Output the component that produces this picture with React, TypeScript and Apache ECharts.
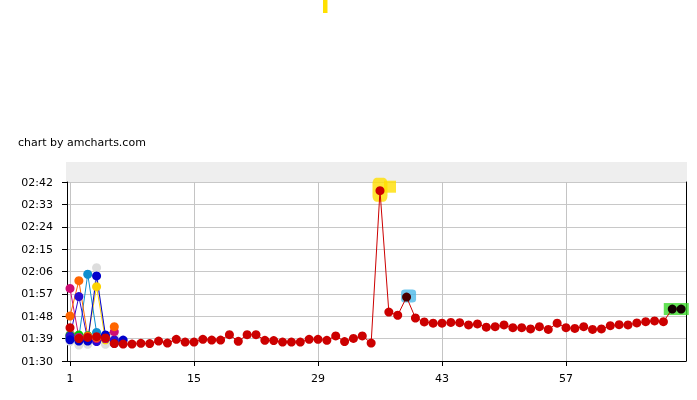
import React, { useEffect, useRef } from "react";
import * as echarts from "echarts";

// lap times in seconds
const mainRed = [
  103.4, 99.0, 99.5, 99.8, 99.3, 97.0, 96.8, 96.8, 97.1, 97.0,
  98.0, 97.2, 98.7, 97.6, 97.6, 98.7, 98.4, 98.4, 100.6, 97.9,
  100.6, 100.6, 98.3, 98.2, 97.6, 97.6, 97.6, 98.7, 98.7, 98.3,
  100.1, 97.8, 99.1, 100.1, 97.2, 158.5, 109.7, 108.4, 115.7, 107.3,
  105.7, 105.2, 105.2, 105.5, 105.4, 104.5, 104.9, 103.6, 103.8, 104.5,
  103.4, 103.4, 102.9, 103.8, 102.7, 105.2, 103.4, 103.1, 103.8, 102.7,
  102.9, 104.2, 104.6, 104.5, 105.3, 105.8, 106.1, 105.8, 110.9, 110.9,
];
const orangeLaps = [108.1, 122.3, 100.0, 99.5, 99.5, 103.8];
const yellowLaps = [99.5, 99.0, 99.0, 119.9, 98.5];
const cyanLaps = [99.0, 99.5, 124.9, 101.5, 99.0, 98.0];
const indigoLaps = [100.0, 115.9, 98.5, 97.8, 99.0, 98.5];
const pinkLaps = [119.2, 99.5, 99.0, 99.0, 99.0, 101.8];
const greenLaps = [100.3, 100.5, 100.2, 98.8, 99.0];
const blueLaps = [98.5, 98.0, 98.0, 124.2, 100.5, 97.1, 98.4];
const lightGrayLaps = [97.8, 96.4, 96.7, 127.5, 96.7, 99.8];
const grayLaps = [100.7, 100.0, 99.5, 99.3];

const xTicks = [1, 15, 29, 43, 57];
const yTicks = { min: 90, max: 162, step: 9 };

const darkLaps = [39];
const blackLaps = [69, 70];
const yellowHighlight = [36];
const cyanHighlight = [39];
const greenHighlight = [69];

const FONT = "DejaVu Sans";

function fmt(sec: number) {
  const m = Math.floor(sec / 60);
  const s = Math.round(sec - m * 60);
  return String(m).padStart(2, "0") + ":" + String(s).padStart(2, "0");
}

function pairs(vals: number[]) {
  return vals.map((v, i) => [i + 1, v]);
}

export default function App() {
  const ref = useRef<HTMLDivElement>(null);
  useEffect(() => {
    if (!ref.current) return;
    const chart = echarts.init(ref.current, undefined, { renderer: "svg" });

    const lineSeries = (name: string, color: string, vals: number[], z = 2) => ({
      name,
      type: "line",
      z,
      data: pairs(vals),
      symbol: "circle",
      symbolSize: 9,
      showSymbol: true,
      lineStyle: { color, width: 1 },
      itemStyle: { color },
      emphasis: { disabled: true },
    });

    const redData = mainRed.map((v, i) => {
      const lap = i + 1;
      if (darkLaps.includes(lap)) return { value: [lap, v], itemStyle: { color: "#4a0000" } };
      if (blackLaps.includes(lap)) return { value: [lap, v], itemStyle: { color: "#110000" } };
      return [lap, v];
    });

    const highlight = (laps: number[], color: string, symbol: string, size: number[], offset: number[]) => ({
      type: "scatter",
      z: 1,
      silent: true,
      data: laps.map((l) => [l, mainRed[l - 1]]),
      symbol,
      symbolSize: size,
      symbolOffset: offset,
      itemStyle: { color },
    });

    chart.setOption({
      animation: false,
      grid: { left: 67, right: 11, top: 182, bottom: 39 },
      xAxis: {
        type: "value",
        min: 0.66,
        max: 70.55,
        axisLine: { show: true, lineStyle: { color: "#000", width: 1 } },
        axisTick: { show: true, customValues: xTicks, length: 5, lineStyle: { color: "#000" } },
        axisLabel: { customValues: xTicks, margin: 12, color: "#000", fontFamily: FONT, fontSize: 11 },
        splitLine: { show: true, lineStyle: { color: "#c4c4c4", width: 1 } },
      },
      yAxis: [
        {
          type: "value",
          min: yTicks.min,
          max: yTicks.max,
          interval: yTicks.step,
          axisLine: { show: true, lineStyle: { color: "#000", width: 1 } },
          axisTick: { show: true, length: 5, lineStyle: { color: "#000" } },
          axisLabel: { margin: 14, color: "#000", fontFamily: FONT, fontSize: 11, formatter: (v: number) => fmt(v) },
          splitLine: { show: true, lineStyle: { color: "#c8c8c8", width: 1 } },
        },
        {
          type: "value",
          position: "right",
          min: yTicks.min,
          max: yTicks.max,
          interval: yTicks.step,
          axisLine: { show: true, lineStyle: { color: "#000", width: 1 } },
          axisTick: { show: false },
          axisLabel: { show: false },
          splitLine: { show: false },
        },
      ],
      graphic: [
        { type: "rect", shape: { x: 66, y: 162, width: 621, height: 20 }, style: { fill: "#eeeeee" }, silent: true },
        { type: "rect", shape: { x: 323, y: 0, width: 4.5, height: 13 }, style: { fill: "#ffe000" }, silent: true },
        {
          type: "text",
          x: 18,
          y: 137,
          style: { text: "chart by amcharts.com", font: `11px "${FONT}"`, fill: "#000" },
          silent: true,
        },
      ],
      series: [
        highlight(yellowHighlight, "#ffdf00", "roundRect", [15, 24], [0, -1]),
        highlight(yellowHighlight, "#ffdf00", "rect", [12, 12], [10, -4]),
        highlight(cyanHighlight, "#4cb9e9", "roundRect", [15, 13], [2, -1]),
        highlight(greenHighlight, "#3cd92a", "rect", [25, 12], [4, 0]),
        lineSeries("gray", "#999999", grayLaps),
        lineSeries("lightgray", "#dddddd", lightGrayLaps),
        lineSeries("yellow", "#fcd202", yellowLaps),
        lineSeries("green", "#00cc00", greenLaps),
        lineSeries("cyan", "#0d8ecf", cyanLaps),
        lineSeries("indigo", "#2a0cd0", indigoLaps),
        lineSeries("pink", "#cd0d74", pinkLaps),
        lineSeries("orange", "#ff6600", orangeLaps),
        lineSeries("blue", "#0000cc", blueLaps),
        {
          ...lineSeries("red", "#cc0000", mainRed),
          data: redData,
        },
      ],
    });
    return () => chart.dispose();
  }, []);
  return <div ref={ref} style={{ position: "fixed", left: 0, top: 0, width: 697, height: 400 }} />;
}
